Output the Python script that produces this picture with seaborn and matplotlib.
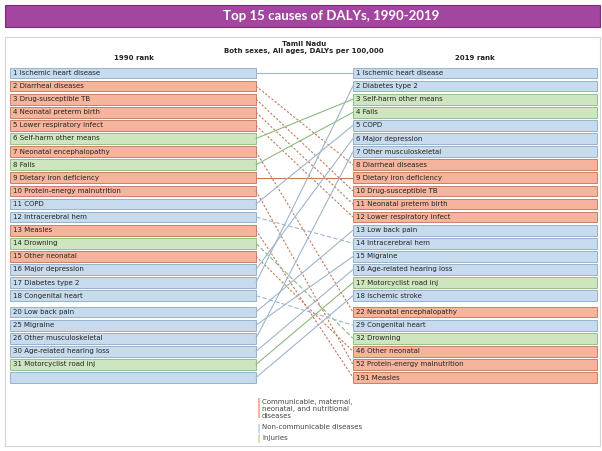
import matplotlib
matplotlib.use("Agg")
import matplotlib.pyplot as plt
from matplotlib.patches import Rectangle
import seaborn as sns

# ---------------- data ----------------
left_labels = ["1 Ischemic heart disease", "2 Diarrheal diseases", "3 Drug-susceptible TB",
               "4 Neonatal preterm birth", "5 Lower respiratory infect", "6 Self-harm other means",
               "7 Neonatal encephalopathy", "8 Falls", "9 Dietary iron deficiency",
               "10 Protein-energy malnutrition", "11 COPD", "12 Intracerebral hem", "13 Measles",
               "14 Drowning", "15 Other neonatal", "16 Major depression", "17 Diabetes type 2",
               "18 Congenital heart", "20 Low back pain", "25 Migraine", "26 Other musculoskeletal",
               "30 Age-related hearing loss", "31 Motorcyclist road inj", ""]
left_cat = ["N", "C", "C", "C", "C", "I", "C", "I", "C", "C", "N", "N", "C", "I", "C",
            "N", "N", "N", "N", "N", "N", "N", "I", "N"]

right_labels = ["1 Ischemic heart disease", "2 Diabetes type 2", "3 Self-harm other means",
                "4 Falls", "5 COPD", "6 Major depression", "7 Other musculoskeletal",
                "8 Diarrheal diseases", "9 Dietary iron deficiency", "10 Drug-susceptible TB",
                "11 Neonatal preterm birth", "12 Lower respiratory infect", "13 Low back pain",
                "14 Intracerebral hem", "15 Migraine", "16 Age-related hearing loss",
                "17 Motorcyclist road inj", "18 Ischemic stroke", "22 Neonatal encephalopathy",
                "29 Congenital heart", "32 Drowning", "46 Other neonatal",
                "52 Protein-energy malnutrition", "191 Measles"]
right_cat = ["N", "N", "I", "I", "N", "N", "N", "C", "C", "C", "C", "C", "N", "N", "N",
             "N", "I", "N", "C", "N", "I", "C", "C", "C"]

# row of the 2019 column each 1990 row links to
link_to = [0, 7, 9, 10, 11, 2, 18, 3, 8, 22, 4, 13, 23, 20, 21, 5, 1, 19, 12, 14, 6, 15, 16, 17]

legend_labels = ["Communicable, maternal,\nneonatal, and nutritional\ndiseases",
                 "Non-communicable diseases", "Injuries"]

# ---------------- style ----------------
sns.set_theme(style="white")
plt.rcParams["font.family"] = ["DejaVu Sans"]

fill = {"C": "#f6b49c", "N": "#c6dbee", "I": "#cde6bf"}
edge = {"C": "#c98068", "N": "#97b2cc", "I": "#98bf88"}
line_col = {"C": "#c27a5e", "N": "#9fb6cc", "I": "#8fb880"}

W, H = 602, 451
fig = plt.figure(figsize=(W / 100, H / 100), dpi=100)

# background axes in pixel space
bg = fig.add_axes([0, 0, 1, 1])
bg.set_xlim(0, W)
bg.set_ylim(H, 0)
bg.axis("off")
bg.add_patch(Rectangle((5, 4.5), 595, 22, facecolor="#a2469f", edgecolor="#7d2a7a", lw=0.8))
bg.text(331, 16, "Top 15 causes of DALYs, 1990-2019", color="white", ha="center", va="center",
        fontsize=9.5, fontweight="bold", family=["Lato", "DejaVu Sans"])
bg.add_patch(Rectangle((5, 36.5), 595, 409, facecolor="white", edgecolor="#d4d4d4", lw=0.8))
bg.text(304, 43.5, "Tamil Nadu", ha="center", va="center", fontsize=5, fontweight="bold", color="#222")
bg.text(304, 50.5, "Both sexes, All ages, DALYs per 100,000", ha="center", va="center", fontsize=5,
        fontweight="bold", color="#222")
bg.text(134, 58, "1990 rank", ha="center", va="center", fontsize=5, fontweight="bold", color="#222")
bg.text(475, 58, "2019 rank", ha="center", va="center", fontsize=5, fontweight="bold", color="#222")

# legend
leg_y = [(398, 418, 403), (424, 433, 428), (434, 443, 439)]
for (y0, y1, ty), lab, c in zip(leg_y, legend_labels, ["C", "N", "I"]):
    bg.add_patch(Rectangle((258, y0), 2, y1 - y0, facecolor=fill[c], edgecolor="none"))
    bg.text(262, ty - 4, lab, ha="left", va="top", fontsize=5, color="#444", linespacing=1.15)

# main axes: x in pixels, y in row units
ax = fig.add_axes([0, 0, 1, 1], zorder=2)
ax.patch.set_alpha(0)
ax.axis("off")
row_px, top_px, gap = 13.1, 73.0, 0.25
ax.set_xlim(0, W)
ax.set_ylim((H - top_px) / row_px, -top_px / row_px)


def pos(i):
    return i + (gap if i >= 18 else 0)


LX0, LX1 = 10, 256
RX0, RX1 = 353, 597
bh = 0.82

lpos = [pos(i) for i in range(len(left_labels))]
rpos = [pos(i) for i in range(len(right_labels))]

ax.barh(lpos, LX1 - LX0, left=LX0, height=bh, color=[fill[c] for c in left_cat],
        edgecolor=[edge[c] for c in left_cat], linewidth=0.7)
ax.barh(rpos, RX1 - RX0, left=RX0, height=bh, color=[fill[c] for c in right_cat],
        edgecolor=[edge[c] for c in right_cat], linewidth=0.7)

for y, lab in zip(lpos, left_labels):
    ax.text(LX0 + 3, y, lab, ha="left", va="center", fontsize=5, color="#222")
for y, lab in zip(rpos, right_labels):
    ax.text(RX0 + 3, y, lab, ha="left", va="center", fontsize=5, color="#222")

for i, j in enumerate(link_to):
    c = left_cat[i]
    if j <= i:
        ls = "-"
        kw = {}
    else:
        ls = "--"
        kw = {"dashes": (2, 1.6) if c == "C" else (4, 2)}
    ax.plot([LX1, RX0], [lpos[i], rpos[j]], color=line_col[c], lw=0.8, linestyle=ls, **kw)

fig.savefig("out.png", dpi=100)
